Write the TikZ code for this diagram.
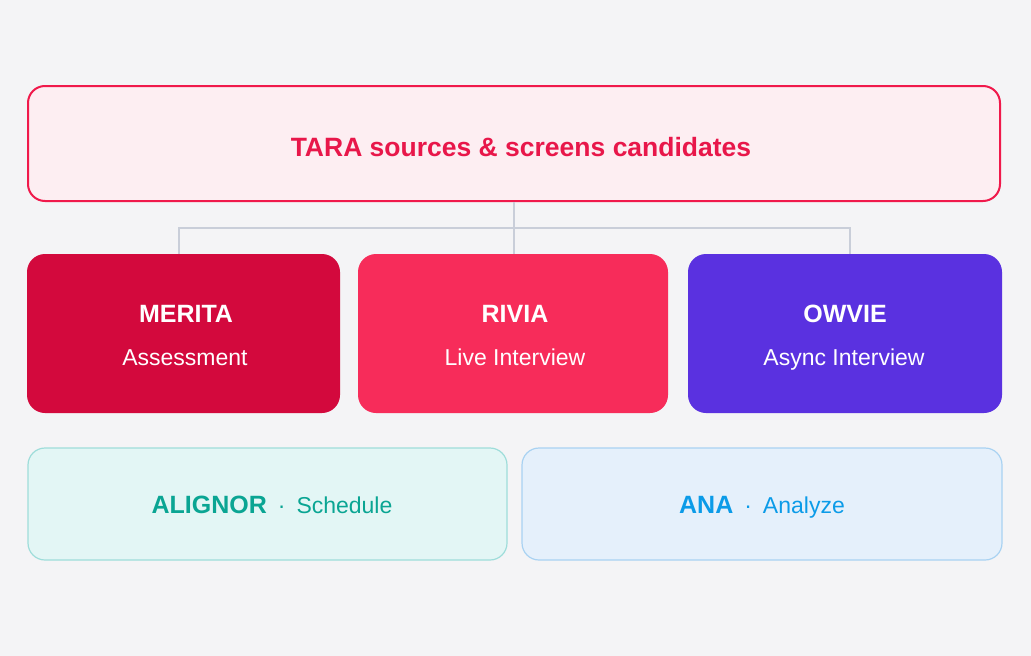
\documentclass[tikz,border=0pt]{standalone}
\usepackage{fontspec}
\setmainfont{Liberation Sans}
\definecolor{bg}{HTML}{F4F4F6}
\definecolor{topfill}{HTML}{FDEEF2}
\definecolor{topline}{HTML}{F0194B}
\definecolor{toptext}{HTML}{E8174A}
\definecolor{conn}{HTML}{C9CED9}
\definecolor{merita}{HTML}{D3093D}
\definecolor{rivia}{HTML}{F72C5A}
\definecolor{owvie}{HTML}{5A31E0}
\definecolor{alfill}{HTML}{E3F6F5}
\definecolor{alline}{HTML}{9EDDDA}
\definecolor{altext}{HTML}{0AA593}
\definecolor{anfill}{HTML}{E5F0FB}
\definecolor{anline}{HTML}{A9D2F2}
\definecolor{antext}{HTML}{0B9BE8}
\begin{document}
\begin{tikzpicture}[x=1pt,y=-1pt,
  box/.style={rectangle,rounded corners=18pt,inner sep=0pt},
  prod/.style={box,minimum width=313pt,minimum height=159pt},
  bottombox/.style={box,line width=1.2pt,minimum width=479pt,minimum height=112pt,rounded corners=17pt},
  ttl/.style={anchor=base,font=\fontsize{25}{30}\selectfont\bfseries,text=white,inner sep=0pt},
  sub/.style={anchor=base,font=\fontsize{23}{28}\selectfont,text=white,inner sep=0pt},
  conline/.style={draw=conn,line width=1.2pt}]
\fill[bg] (0,0) rectangle (1031,656);
\useasboundingbox (0,0) rectangle (1031,656);
% top
\node[box,draw=topline,fill=topfill,line width=2pt,rounded corners=17pt,minimum width=972pt,minimum height=115pt] (tara) at (514,143.5) {};
\node[anchor=base,inner sep=0pt,text=toptext,font=\fontsize{26.5}{32}\selectfont\bfseries] (taratxt) at (521,156) {TARA sources \& screens candidates};
% products
\node[prod,fill=merita] (merita) at (183.5,333.5) {};
\node[prod,fill=rivia,minimum width=310pt] (rivia) at (513,333.5) {};
\node[prod,fill=owvie,minimum width=314pt] (owvie) at (845,333.5) {};
\node[ttl] (meritaT) at (186,322) {MERITA};
\node[sub] (meritaS) at (185,365) {Assessment};
\node[ttl] (riviaT) at (515,322) {RIVIA};
\node[sub] (riviaS) at (515,365) {Live Interview};
\node[ttl] (owvieT) at (845,322) {OWVIE};
\node[sub] (owvieS) at (844,365) {Async Interview};
% connectors
\coordinate (j) at (514,228);
\draw[conline] (tara.south) -- (j);
\draw[conline] (j) -- (j |- rivia.north);
\draw[conline] (j) -| (179,254);
\draw[conline] (j) -| (850,254);
% bottom
\node[bottombox,draw=alline,fill=alfill] (alignor) at (267.5,504) {};
\node[bottombox,draw=anline,fill=anfill,minimum width=480pt] (ana) at (762,504) {};
\node[anchor=base,inner sep=0pt,text=altext,font=\fontsize{23}{28}\selectfont] (alignorT) at (272,513) {{\fontsize{25}{30}\selectfont\bfseries ALIGNOR}\hspace{11pt}·\hspace{11pt}Schedule};
\node[anchor=base,inner sep=0pt,text=antext,font=\fontsize{23}{28}\selectfont] (anaT) at (762,513) {{\fontsize{25}{30}\selectfont\bfseries ANA}\hspace{11pt}·\hspace{11pt}Analyze};
\end{tikzpicture}
\end{document}
